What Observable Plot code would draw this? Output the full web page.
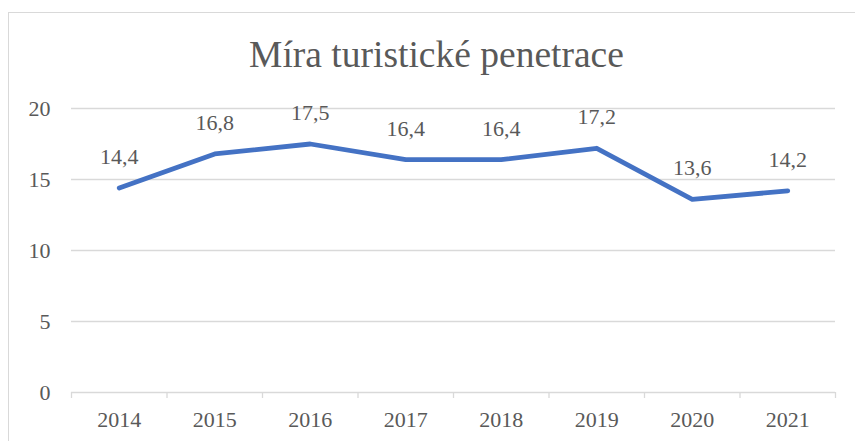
<!DOCTYPE html>
<html>
<head>
<meta charset="utf-8">
<script src="https://cdn.jsdelivr.net/npm/d3@7"></script>
<script src="https://cdn.jsdelivr.net/npm/@observablehq/plot@0.6"></script>
<style>
  html, body { margin: 0; padding: 0; background: #fff; }
  #wrap { position: relative; width: 855px; height: 441px; overflow: hidden; background: #fff; }
  #frame { position: absolute; left: 8px; top: 12px; width: 900px; height: 500px; border: 1.5px solid #d9d9d9; box-sizing: border-box; }
  #title { position: absolute; left: 0; width: 873px; top: 34px; text-align: center; font-family: "Liberation Serif", "Times New Roman", serif; font-size: 37.5px; line-height: 42px; color: #595959; white-space: nowrap; }
  #chart { position: absolute; left: 0; top: 0; }
  #chart svg, #chart svg text { font-family: "Liberation Serif", "Times New Roman", serif !important; }
</style>
</head>
<body>
<div id="wrap">
  <div id="frame"></div>
  <div id="title">Míra turistické penetrace</div>
  <div id="chart"></div>
</div>
<script>
const years = [2014, 2015, 2016, 2017, 2018, 2019, 2020, 2021];
const values = [14.4, 16.8, 17.5, 16.4, 16.4, 17.2, 13.6, 14.2];
const yTicks = [0, 5, 10, 15, 20];

const data = years.map((year, i) => ({year, value: values[i]}));
const bounds = [years[0] - 0.5, ...years.map(y => y + 0.5)];
const serif = "Liberation Serif";

const chart = Plot.plot({
  width: 855,
  height: 441,
  marginLeft: 71,
  marginRight: 20,
  marginTop: 108,
  marginBottom: 49,
  style: {fontFamily: serif, fontSize: "22px", color: "#595959", background: "transparent"},
  x: {type: "linear", domain: [years[0] - 0.5, years[years.length - 1] + 0.5]},
  y: {domain: [0, 20]},
  marks: [
    Plot.ruleY(yTicks, {stroke: "#d9d9d9", strokeWidth: 1.3}),
    Plot.axisX(bounds, {tickSize: 6, tickFormat: () => "", stroke: "#d9d9d9", strokeWidth: 1.3, label: null}),
    Plot.axisX(years, {tickSize: 0, tickPadding: 19, tickFormat: d => String(d), label: null, fontSize: 22, fontFamily: serif}),
    Plot.axisY(yTicks, {tickSize: 0, tickPadding: 21, label: null, fontSize: 22, fontFamily: serif}),
    Plot.line(data, {x: "year", y: "value", stroke: "#4472C4", strokeWidth: 4.8, strokeLinecap: "round", strokeLinejoin: "round"}),
    Plot.text(data, {x: "year", y: "value", text: d => d.value.toFixed(1).replace(".", ","), dy: -31, fill: "#595959", fontSize: 22, fontFamily: serif})
  ]
});
document.getElementById("chart").appendChild(chart);
</script>
</body>
</html>
